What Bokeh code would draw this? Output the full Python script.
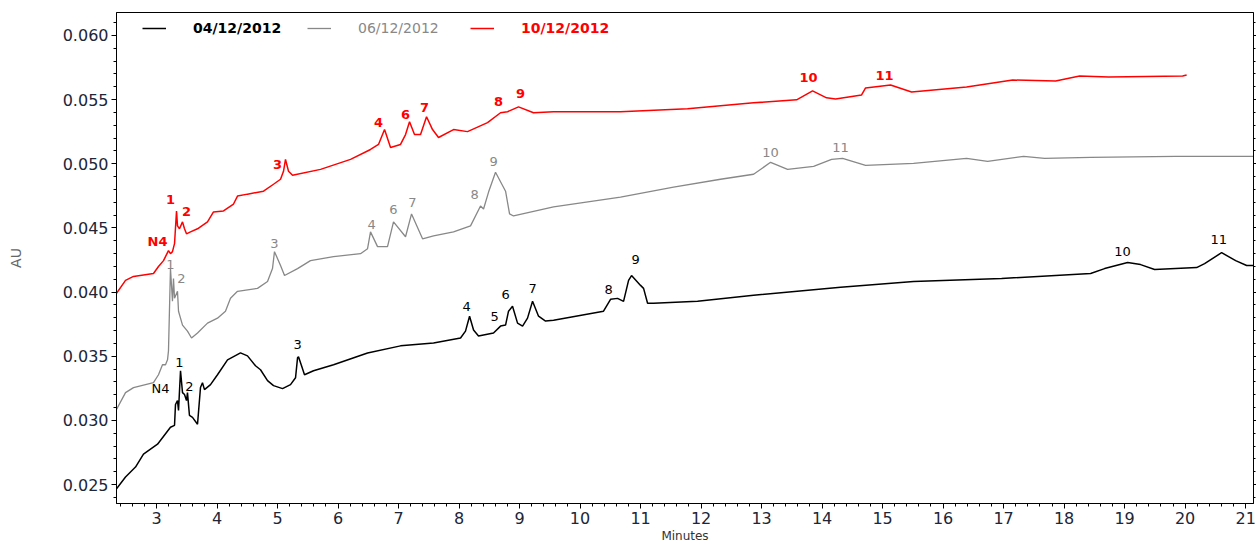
from bokeh.plotting import figure
from bokeh.models import (ColumnDataSource, Range1d, SingleIntervalTicker,
                          NumeralTickFormatter, LinearAxis, Legend, LegendItem,
                          CustomJSTickFormatter)
from bokeh.core.properties import value
from bokeh.embed import file_html
from bokeh.resources import INLINE

# ---- chromatogram traces: retention time (min) and absorbance (AU) ----
t_0412 = [2.339, 2.488, 2.653, 2.785, 3.017, 3.231, 3.298, 3.314, 3.347, 3.364,
          3.397, 3.430, 3.463, 3.496, 3.512, 3.545, 3.595, 3.678, 3.727, 3.760,
          3.793, 3.893, 4.008, 4.174, 4.388, 4.504, 4.636, 4.719, 4.835, 4.934,
          5.083, 5.215, 5.298, 5.331, 5.347, 5.397, 5.446, 5.595, 5.926, 6.488,
          7.033, 7.579, 8.025, 8.107, 8.174, 8.240, 8.322, 8.570, 8.686, 8.769,
          8.818, 8.884, 8.967, 9.050, 9.132, 9.215, 9.314, 9.430, 9.562, 10.388,
          10.504, 10.620, 10.719, 10.802, 10.851, 11.0, 11.050, 11.116, 11.215, 11.942,
          12.868, 14.306, 15.512, 16.967, 18.438, 18.669, 19.050, 19.264, 19.496, 20.190,
          20.322, 20.603, 20.835, 21.017, 21.132]
au_0412 = [0.02467, 0.02560, 0.02637, 0.02738, 0.02815, 0.02947, 0.02962, 0.03124, 0.03155, 0.03078,
           0.03387, 0.03217, 0.03202, 0.03155, 0.03217, 0.03039, 0.03024, 0.02970, 0.03256, 0.03294,
           0.03240, 0.03279, 0.03356, 0.03472, 0.03526, 0.03503, 0.03426, 0.03395, 0.03310, 0.03271,
           0.03248, 0.03279, 0.03333, 0.03488, 0.03496, 0.03426, 0.03356, 0.03387, 0.03434, 0.03526,
           0.03581, 0.03604, 0.03642, 0.03696, 0.03812, 0.03704, 0.03658, 0.03681, 0.03735, 0.03743,
           0.03851, 0.03890, 0.03758, 0.03735, 0.03797, 0.03928, 0.03812, 0.03774, 0.03781, 0.03851,
           0.03944, 0.03951, 0.03928, 0.04091, 0.04129, 0.04052, 0.04029, 0.03913, 0.03913, 0.03928,
           0.03975, 0.04037, 0.04083, 0.04106, 0.04145, 0.04183, 0.04230, 0.04214, 0.04176, 0.04191,
           0.04222, 0.04307, 0.04245, 0.04207, 0.04207]

t_0612 = [2.339, 2.488, 2.620, 2.950, 3.033, 3.099, 3.149, 3.182, 3.198, 3.231,
          3.264, 3.281, 3.298, 3.347, 3.364, 3.430, 3.512, 3.579, 3.678, 3.843,
          4.008, 4.140, 4.223, 4.339, 4.669, 4.835, 4.917, 4.950, 5.050, 5.116,
          5.331, 5.545, 5.926, 6.372, 6.488, 6.537, 6.653, 6.818, 6.917, 7.116,
          7.215, 7.397, 7.579, 7.909, 8.190, 8.355, 8.405, 8.488, 8.603, 8.769,
          8.835, 8.901, 9.562, 10.669, 11.545, 12.322, 12.868, 13.149, 13.430, 13.860,
          14.157, 14.339, 14.719, 15.512, 16.388, 16.736, 17.331, 17.678, 18.438, 19.843,
          21.132]
au_0612 = [0.03086, 0.03217, 0.03256, 0.03294, 0.03356, 0.03434, 0.03434, 0.03472, 0.03542, 0.04183,
           0.03928, 0.04106, 0.03952, 0.04006, 0.03851, 0.03743, 0.03696, 0.03642, 0.03681, 0.03758,
           0.03797, 0.03851, 0.03952, 0.04006, 0.04029, 0.04083, 0.04183, 0.04315, 0.04207, 0.04129,
           0.04183, 0.04245, 0.04276, 0.04299, 0.04338, 0.04469, 0.04354, 0.04354, 0.04547, 0.04431,
           0.04609, 0.04415, 0.04438, 0.04469, 0.04516, 0.04670, 0.04647, 0.04779, 0.04933, 0.04786,
           0.04609, 0.04593, 0.04663, 0.04740, 0.04817, 0.04879, 0.04918, 0.05011, 0.04956, 0.04980,
           0.05034, 0.05041, 0.04987, 0.05003, 0.05041, 0.05018, 0.05057, 0.05041, 0.05049, 0.05057,
           0.05057]

t_1012 = [2.339, 2.488, 2.620, 2.950, 3.033, 3.116, 3.198, 3.231, 3.264, 3.298,
          3.331, 3.347, 3.380, 3.430, 3.463, 3.496, 3.562, 3.678, 3.843, 3.942,
          4.107, 4.273, 4.339, 4.504, 4.769, 4.934, 5.050, 5.099, 5.132, 5.182,
          5.248, 5.711, 6.207, 6.537, 6.669, 6.769, 6.868, 7.033, 7.116, 7.182,
          7.264, 7.364, 7.463, 7.562, 7.661, 7.909, 8.140, 8.471, 8.686, 8.802,
          8.983, 9.231, 9.562, 10.669, 11.777, 12.868, 13.579, 13.843, 14.074, 14.223,
          14.653, 14.719, 15.132, 15.479, 16.388, 17.149, 17.860, 18.256, 18.736, 19.959,
          20.025]
au_1012 = [0.03990, 0.04091, 0.04122, 0.04145, 0.04199, 0.04245, 0.04323, 0.04299, 0.04315, 0.04377,
           0.04632, 0.04516, 0.04493, 0.04547, 0.04493, 0.04454, 0.04469, 0.04493, 0.04547, 0.04624,
           0.04632, 0.04686, 0.04748, 0.04763, 0.04786, 0.04840, 0.04879, 0.04941, 0.05034, 0.04941,
           0.04910, 0.04956, 0.05034, 0.05111, 0.05150, 0.05266, 0.05127, 0.05150, 0.05227, 0.05327,
           0.05227, 0.05227, 0.05366, 0.05266, 0.05204, 0.05266, 0.05250, 0.05320, 0.05397, 0.05405,
           0.05443, 0.05397, 0.05405, 0.05405, 0.05428, 0.05474, 0.05498, 0.05567, 0.05513, 0.05505,
           0.05536, 0.05590, 0.05613, 0.05559, 0.05598, 0.05652, 0.05644, 0.05683, 0.05675, 0.05683,
           0.05691]

# ---- peak annotations (label text and where it sits) ----
pk_0412 = ["N4", "1", "2", "3", "4", "5", "6", "7", "8", "9", "10", "11"]
pk_t_0412 = [3.066, 3.380, 3.545, 5.331, 8.124, 8.587, 8.769, 9.215, 10.471, 10.917, 18.967, 20.554]
pk_au_0412 = [0.03248, 0.03449, 0.03264, 0.03588, 0.03890, 0.03812, 0.03982, 0.04029, 0.04021, 0.04253, 0.04315, 0.04408]

pk_0612 = ["1", "2", "3", "4", "6", "7", "8", "9", "10", "11"]
pk_t_0612 = [3.231, 3.413, 4.950, 6.554, 6.917, 7.231, 8.256, 8.570, 13.149, 14.306]
pk_au_0612 = [0.04214, 0.04106, 0.04377, 0.04524, 0.04640, 0.04694, 0.04763, 0.05018, 0.05088, 0.05127]

pk_1012 = ["N4", "1", "2", "3", "4", "6", "7", "8", "9", "10", "11"]
pk_t_1012 = [3.017, 3.231, 3.496, 5.000, 6.669, 7.116, 7.430, 8.653, 9.017, 13.777, 15.033]
pk_au_1012 = [0.04392, 0.04725, 0.04624, 0.04995, 0.05320, 0.05382, 0.05436, 0.05482, 0.05544, 0.05668, 0.05691]

run_names = ["04/12/2012", "06/12/2012", "10/12/2012"]
run_colors = ["#000000", "#888888", "#ff0000"]

FONT = "DejaVu Sans"
TICK_COLOR = "#202538"

p = figure(width=1256, height=545, output_backend="svg", toolbar_location=None,
           x_range=Range1d(2.339, 21.13), y_range=Range1d(0.02353, 0.06178),
           min_border_left=116, min_border_right=3, min_border_top=12, min_border_bottom=37)
p.xgrid.visible = False
p.ygrid.visible = False
p.outline_line_color = "black"
p.outline_line_width = 1
p.background_fill_color = "white"
p.border_fill_color = "white"

# axes
xa = p.xaxis[0]
xa.ticker = SingleIntervalTicker(interval=1, num_minor_ticks=5)
xa.axis_label = "Minutes"
ya = p.yaxis[0]
ya.ticker = SingleIntervalTicker(interval=0.005, num_minor_ticks=5)
ya.formatter = NumeralTickFormatter(format="0.000")
ya.axis_label = "AU"

for ax in (xa, ya):
    ax.axis_line_color = "black"
    ax.major_tick_line_color = "black"
    ax.minor_tick_line_color = "black"
    ax.major_tick_in = 0
    ax.minor_tick_in = 0
    ax.major_tick_out = 5
    ax.minor_tick_out = 3
    ax.major_label_text_font = FONT
    ax.major_label_text_font_size = "16px"
    ax.major_label_text_color = TICK_COLOR
    ax.axis_label_text_font = FONT
    ax.axis_label_text_font_style = "normal"

xa.major_label_standoff = 3
xa.axis_label_text_font_size = "12px"
xa.axis_label_text_color = "#333333"
xa.axis_label_standoff = 2
ya.major_label_standoff = 3
ya.axis_label_text_font_size = "14px"
ya.axis_label_text_color = "#666666"
ya.axis_label_standoff = 36

# tick marks along the right edge of the frame (no labels)
ra = LinearAxis(ticker=SingleIntervalTicker(interval=0.005, num_minor_ticks=5),
                formatter=CustomJSTickFormatter(code="return ''"),
                major_label_standoff=0,
                major_tick_in=0, major_tick_out=3, minor_tick_in=0, minor_tick_out=2,
                axis_line_color="black")
p.add_layout(ra, "right")

# traces
traces = [(t_0412, au_0412, 1.5), (t_0612, au_0612, 1.3), (t_1012, au_1012, 1.5)]
renderers = []
for (t, au, lw), c in zip(traces, run_colors):
    r = p.line(t, au, line_color=c, line_width=lw)
    renderers.append(r)

# peak labels
peaks = [(pk_0412, pk_t_0412, pk_au_0412, "normal"),
         (pk_0612, pk_t_0612, pk_au_0612, "normal"),
         (pk_1012, pk_t_1012, pk_au_1012, "bold")]
for (lab, t, au, style), c in zip(peaks, run_colors):
    src = ColumnDataSource(dict(t=t, au=au, lab=lab))
    p.text(x="t", y="au", text="lab", source=src, text_align="center",
           text_baseline="middle", text_font=value(FONT), text_font_size="13px",
           text_font_style=style, text_color=c)

# legend: one entry per run, each with its own text colour
legend_x = [26, 191, 354]
for name, c, r, lx in zip(run_names, run_colors, renderers, legend_x):
    leg = Legend(items=[LegendItem(label=name, renderers=[r])],
                 location=(lx, 467), orientation="horizontal",
                 glyph_width=24, glyph_height=16, label_standoff=27,
                 padding=0, margin=0, border_line_alpha=0, background_fill_alpha=0,
                 label_text_font=FONT, label_text_font_size="14px",
                 label_text_font_style="bold" if c != "#888888" else "normal",
                 label_text_color=c)
    p.add_layout(leg)

open("out.html", "w").write(file_html(p, INLINE))
